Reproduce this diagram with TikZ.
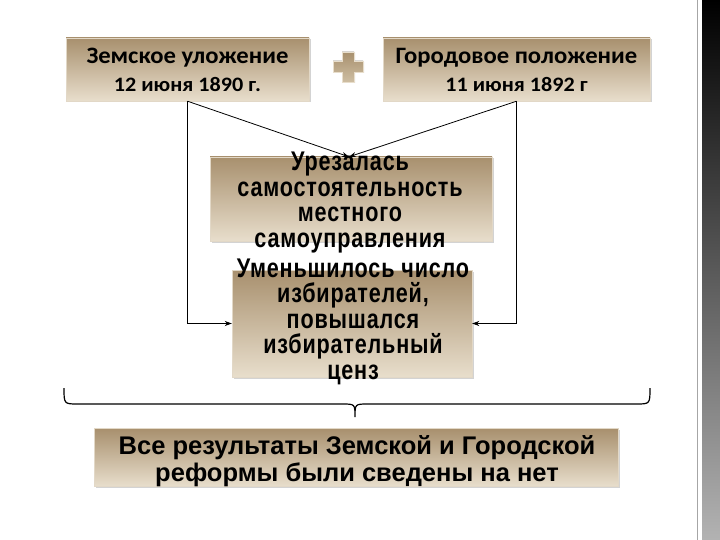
\documentclass[tikz,border=0pt]{standalone}
\usepackage{fontspec}
\setmainfont{Carlito}
\newfontfamily\headface{Carlito}[FakeStretch=1.05]
\newfontfamily\dateface{Carlito}[FakeStretch=1.08]
\newfontfamily\arialface{Liberation Sans}
\newfontfamily\tallface{Liberation Sans}[FakeStretch=0.8, LetterSpace=3]
\usetikzlibrary{arrows.meta,shadows}

\definecolor{tantop}{RGB}{168,144,110}
\definecolor{tanbot}{RGB}{232,222,204}
\definecolor{tanmid}{RGB}{206,190,162}

\tikzset{
  lawbox/.style={rectangle, draw=tanmid!60!white, line width=0.4pt,
    top color=tantop, bottom color=tanbot, drop shadow={shadow xshift=1.5pt, shadow yshift=-1.5pt, opacity=0.35},
    inner sep=0pt},
  boxtext/.style={align=center, font=\bfseries, inner sep=0pt},
  link/.style={line width=0.8pt, -{Stealth[length=7pt,width=5pt]}}
}

\begin{document}
\begin{tikzpicture}[x=1pt, y=-1pt]
\useasboundingbox (0,0) rectangle (720,540);

% Side strip
\shade[top color=black, bottom color=gray!60] (702,0) rectangle (720,540);
\draw[gray!70, line width=0.8pt] (697,0) -- (697,540);

% Laws
\node[lawbox, minimum width=243pt, minimum height=63pt] (zem) at (187.5,69.5) {};
\node[boxtext, font=\headface\bfseries\fontsize{23.5}{28}\selectfont] (zemtxt) at (187.5,70)
  {Земское уложение\\\dateface\fontsize{20.5}{28}\selectfont 12 июня 1890 г.};

\node[lawbox, minimum width=267pt, minimum height=63pt] (gor) at (516.5,69.5) {};
\node[boxtext, font=\headface\bfseries\fontsize{23.5}{28}\selectfont] (gortxt) at (516.5,70)
  {Городовое положение\\\dateface\fontsize{20.5}{28}\selectfont 11 июня 1892 г};

% Plus
\filldraw[draw=tanbot, top color=tantop, bottom color=tanmid, line width=0.6pt,
  drop shadow={shadow xshift=1pt, shadow yshift=-1pt, opacity=0.3}]
  (342,52) -- (354,52) -- (354,61) -- (363,61) -- (363,72) -- (354,72)
  -- (354,82) -- (342,82) -- (342,72) -- (333,72) -- (333,61) -- (342,61) -- cycle;

% Results
\node[lawbox, minimum width=282pt, minimum height=84pt] (cut) at (351,199) {};
\node[boxtext, font=\tallface\bfseries\fontsize{27}{25.5}\selectfont] (cuttxt) at (350,202.5)
  {Урезалась\\самостоятельность\\местного\\самоуправления};

\node[lawbox, minimum width=240pt, minimum height=107pt] (cens) at (352,323.5) {};
\node[boxtext, font=\tallface\bfseries\fontsize{27}{25.5}\selectfont] (censtxt) at (353,321.5)
  {Уменьшилось число\\избирателей,\\повышался\\избирательный\\ценз};

\node[lawbox, minimum width=524pt, minimum height=58pt] (nul) at (356,457.5) {};
\node[boxtext, font=\arialface\bfseries\fontsize{25.5}{27}\selectfont] (nultxt) at (357,461)
  {Все результаты Земской и Городской\\реформы были сведены на нет};

% Arrows
\draw[link] (zem.south) -- (cut.north -| 349,0);
\draw[link] (gor.south) -- (cut.north -| 349,0);
\draw[link] (zem.south) |- (cens.west);
\draw[link] (gor.south) |- (cens.east);

% Brace
\draw[line width=1.2pt] (64,388) .. controls (64,404) .. (78,404) -- (342,404)
  .. controls (355,404) .. (355,417) .. controls (355,404) .. (368,404)
  -- (636,404) .. controls (650,404) .. (650,388);

\end{tikzpicture}
\end{document}
